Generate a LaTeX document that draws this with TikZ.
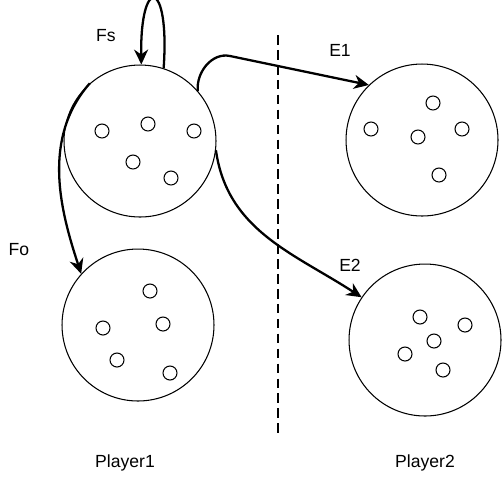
\documentclass[tikz,border=0pt]{standalone}
\usepackage{fontspec}
\setmainfont{Liberation Sans}
\usetikzlibrary{arrows.meta}
\begin{document}
\begin{tikzpicture}[>={Stealth[length=8.5pt,width=8pt]}, font=\fontsize{10}{12}\selectfont, x=0.02cm, y=-0.02cm]
  \tikzset{set/.style={draw, circle, line width=0.6pt, minimum size=3.04cm, inner sep=0pt},
           elem/.style={draw, circle, line width=0.6pt, minimum size=0.28cm, inner sep=0pt},
           move/.style={->, line width=1.3pt}}
  \useasboundingbox (0,0) rectangle (502,478);
  % the four state sets
  \node[set] (s1) at (140,141) {};
  \node[set] (s2) at (138,325) {};
  \node[set] (s3) at (422,140) {};
  \node[set] (s4) at (425,340) {};
  % elements
  \node[elem] (a1) at (102,131) {};
  \node[elem] (a2) at (148,124) {};
  \node[elem] (a3) at (194,131) {};
  \node[elem] (a4) at (133,162) {};
  \node[elem] (a5) at (171,178) {};
  \node[elem] (b1) at (150,291) {};
  \node[elem] (b2) at (103,328) {};
  \node[elem] (b3) at (163,324) {};
  \node[elem] (b4) at (117,360) {};
  \node[elem] (b5) at (170,373) {};
  \node[elem] (c1) at (433,103) {};
  \node[elem] (c2) at (371,129) {};
  \node[elem] (c3) at (418,137) {};
  \node[elem] (c4) at (462,129) {};
  \node[elem] (c5) at (439,175) {};
  \node[elem] (d1) at (420,317) {};
  \node[elem] (d2) at (465,325) {};
  \node[elem] (d3) at (434,341) {};
  \node[elem] (d4) at (405,354) {};
  \node[elem] (d5) at (443,370) {};
  % divider
  \coordinate (divtop) at (278,35);
  \coordinate (divbot) at (278,435);
  \draw[line width=1.4pt, dash pattern=on 5.5pt off 3pt] (divtop) -- (divbot);
  % labels
  \node (fs) at (106,36) {Fs};
  \node (e1) at (340,50) {E1};
  \node (fo) at (19,250) {Fo};
  \node (e2) at (350,265) {E2};
  \node (p1) at (125,463) {Player1};
  \node (p2) at (425,463) {Player2};
  % moves
  \draw[move] (s1.72) .. controls (170,-22) and (140,-25) .. (s1.89);
  \coordinate (e1bend) at (230,56);
  \draw[move] (s1.41) to[out=95,in=168] (e1bend) -- (s3.134);
  \draw[move] (s1.-7) to[out=-82,in=147] (s4.146);
  \draw[move] (s1.131) .. controls (40,140) and (62,215) .. (s2.138);
\end{tikzpicture}
\end{document}
